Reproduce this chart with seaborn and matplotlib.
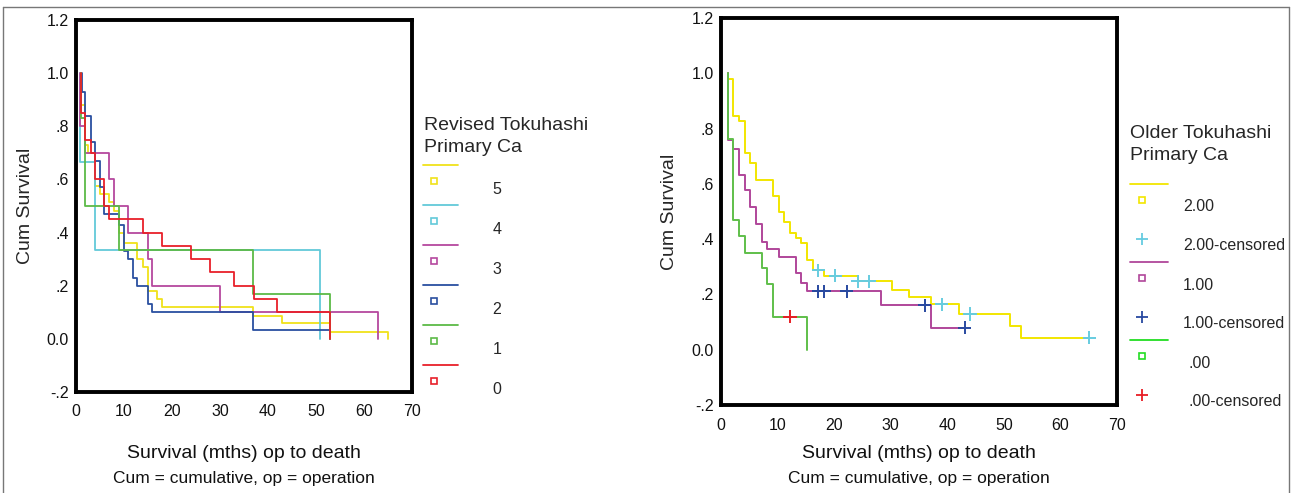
import numpy as np
import pandas as pd
import matplotlib
matplotlib.use("Agg")
import matplotlib.pyplot as plt
from matplotlib.lines import Line2D
import seaborn as sns

# ---- left panel: Revised Tokuhashi (event months, survival after each drop)
rev_groups = ["5", "4", "3", "2", "1", "0"]
rev5_t = [1.0, 1.9, 2.6, 3.9, 4.9, 6.9, 8.0, 9.0, 10.0, 12.8, 13.9, 15.0, 16.9, 17.9, 36.9, 43.0, 52.9, 65.1]
rev5_s = [0.88, 0.73, 0.70, 0.575, 0.545, 0.516, 0.48, 0.40, 0.36, 0.30, 0.27, 0.18, 0.15, 0.12, 0.087, 0.058, 0.026, 0.0]
rev4_t = [0.8, 3.9, 50.8]
rev4_s = [0.667, 0.333, 0.0]
rev3_t = [0.9, 1.9, 6.9, 8.0, 10.9, 15.0, 15.9, 29.9, 63.0]
rev3_s = [0.80, 0.70, 0.60, 0.50, 0.40, 0.30, 0.20, 0.10, 0.0]
rev2_t = [1.2, 1.9, 3.1, 3.9, 4.9, 5.8, 9.0, 10.0, 10.9, 11.9, 12.8, 15.0, 15.9, 36.9, 52.9]
rev2_s = [0.93, 0.84, 0.74, 0.67, 0.57, 0.47, 0.43, 0.33, 0.30, 0.23, 0.20, 0.13, 0.10, 0.033, 0.0]
rev1_t = [1.0, 1.9, 9.0, 36.9, 52.9]
rev1_s = [0.833, 0.5, 0.333, 0.167, 0.0]
rev0_t = [1.0, 1.9, 3.1, 3.9, 5.8, 6.9, 13.9, 17.9, 24.0, 27.9, 33.0, 37.0, 41.9, 52.9]
rev0_s = [0.85, 0.75, 0.70, 0.60, 0.50, 0.45, 0.40, 0.35, 0.30, 0.25, 0.20, 0.15, 0.10, 0.0]

# ---- right panel: Older Tokuhashi
old_groups = ["2.00", "1.00", ".00"]
old2_t = [1.3, 2.2, 3.2, 4.2, 5.2, 6.2, 9.2, 10.2, 11.2, 12.2, 13.2, 14.2, 15.2, 16.2, 18.2, 24.2, 30.2, 33.3, 37.1, 42.1, 51.0, 53.0]
old2_s = [0.978, 0.846, 0.829, 0.71, 0.674, 0.614, 0.556, 0.50, 0.463, 0.423, 0.403, 0.387, 0.324, 0.288, 0.268, 0.248, 0.216, 0.19, 0.164, 0.129, 0.087, 0.043]
old2_cens = [17.2, 20.2, 24.2, 26.2, 39.0, 44.0, 65.1]
old1_t = [1.2, 2.2, 3.2, 4.2, 5.2, 6.2, 7.2, 8.2, 10.2, 13.2, 14.2, 15.2, 28.2, 37.1]
old1_s = [0.759, 0.726, 0.633, 0.578, 0.517, 0.454, 0.39, 0.366, 0.337, 0.276, 0.242, 0.212, 0.16, 0.08]
old1_cens = [17.2, 18.2, 22.2, 36.0, 43.1]
old0_t = [1.2, 2.2, 3.2, 4.2, 7.2, 8.2, 9.2, 15.2]
old0_s = [0.761, 0.469, 0.413, 0.351, 0.294, 0.238, 0.119, 0.0]
old0_cens = [12.2]

y_ticks = [-0.2, 0.0, 0.2, 0.4, 0.6, 0.8, 1.0, 1.2]
y_ticklabels = ["-.2", "0.0", ".2", ".4", ".6", ".8", "1.0", "1.2"]
x_ticks = [0, 10, 20, 30, 40, 50, 60, 70]

rev_colors = {"5": "#f0e21a", "4": "#62c9d9", "3": "#b5489e",
              "2": "#2a4fa0", "1": "#5cba47", "0": "#e8202a"}
old_colors = {"2.00": "#f2e600", "1.00": "#b0469a", ".00": "#5fbf4a"}
cens_colors = {"2.00-censored": "#66cce0", "1.00-censored": "#2849a0", ".00-censored": "#e81e25"}


def km_frame(t, s, group, end=None):
    x = [t[0]] + list(t)
    y = [1.0] + list(s)
    if end is not None and end > x[-1]:
        x.append(end)
        y.append(y[-1])
    return pd.DataFrame({"month": x, "surv": y, "group": group})


def cens_frame(t, s, cens, group):
    idx = np.searchsorted(t, cens, side="right") - 1
    y = [s[i] if i >= 0 else 1.0 for i in idx]
    return pd.DataFrame({"month": cens, "surv": y, "group": group})


rev_df = pd.concat([km_frame(rev5_t, rev5_s, "5"), km_frame(rev4_t, rev4_s, "4"),
                    km_frame(rev3_t, rev3_s, "3"), km_frame(rev2_t, rev2_s, "2"),
                    km_frame(rev1_t, rev1_s, "1"), km_frame(rev0_t, rev0_s, "0")])
old_df = pd.concat([km_frame(old2_t, old2_s, "2.00", max(old2_cens)),
                    km_frame(old1_t, old1_s, "1.00", max(old1_cens)),
                    km_frame(old0_t, old0_s, ".00")])
cens_df = pd.concat([cens_frame(old2_t, old2_s, old2_cens, "2.00-censored"),
                     cens_frame(old1_t, old1_s, old1_cens, "1.00-censored"),
                     cens_frame(old0_t, old0_s, old0_cens, ".00-censored")])

sns.set_style("white")
plt.rcParams["font.family"] = ["Liberation Sans", "DejaVu Sans"]

W, H = 1294, 493
fig = plt.figure(figsize=(W / 100, H / 100), dpi=100)


def fx(px):
    return px / W


def fy(py):
    return 1 - py / H


ax1 = fig.add_axes([fx(76), fy(392), fx(412) - fx(76), fy(20) - fy(392)])
ax2 = fig.add_axes([fx(721), fy(405), fx(1117) - fx(721), fy(18) - fy(405)])

sns.lineplot(data=rev_df, x="month", y="surv", hue="group", hue_order=rev_groups,
             palette=rev_colors, estimator=None, sort=False, drawstyle="steps-post",
             linewidth=1.3, legend=False, ax=ax1)
sns.lineplot(data=old_df, x="month", y="surv", hue="group", hue_order=old_groups,
             palette=old_colors, estimator=None, sort=False, drawstyle="steps-post",
             linewidth=1.4, legend=False, ax=ax2)
sns.scatterplot(data=cens_df, x="month", y="surv", hue="group", palette=cens_colors,
                marker="+", s=90, linewidth=1.4, legend=False, ax=ax2, zorder=5)

for ax, xc in [(ax1, 244), (ax2, 919)]:
    ax.set_xlim(0, 70)
    ax.set_ylim(-0.2, 1.2)
    ax.set_xticks(x_ticks)
    ax.set_yticks(y_ticks)
    ax.set_yticklabels(y_ticklabels)
    ax.set_xlabel("")
    ax.set_ylabel("Cum Survival", fontsize=14)
    for sp in ax.spines.values():
        sp.set_visible(True)
        sp.set_color("black")
        sp.set_linewidth(2.8)
    ax.tick_params(axis="both", direction="out", length=3, width=2.5, colors="black",
                   labelsize=11.5, labelcolor="#111111")
    ax.tick_params(axis="x", pad=6)
    ax.tick_params(axis="y", pad=2)
    fig.text(fx(xc), fy(454), "Survival (mths) op to death", ha="center", va="center",
             fontsize=14, color="#111111")
    fig.text(fx(xc), fy(478), "Cum = cumulative, op = operation", ha="center", va="center",
             fontsize=12.5, color="#111111")

ax1.yaxis.set_label_coords((34 - 76) / 336, 0.5)
ax2.yaxis.set_label_coords((678 - 721) / 396, 0.5)

# ---- left legend
fig.text(fx(424), fy(125), "Revised Tokuhashi", ha="left", va="center", fontsize=14)
fig.text(fx(424), fy(148), "Primary Ca", ha="left", va="center", fontsize=14)
for i, g in enumerate(rev_groups):
    ly = 165 + i * 40
    fig.add_artist(Line2D([fx(423), fx(458)], [fy(ly), fy(ly)], color=rev_colors[g], lw=1.3))
    fig.add_artist(Line2D([fx(434)], [fy(ly + 16)], marker="s", ms=4.5, mfc="white",
                          mec=rev_colors[g], mew=1.2, ls="none"))
    fig.text(fx(497), fy(ly + 24), g, ha="center", va="center", fontsize=11.5)

# ---- right legend
fig.text(fx(1130), fy(134), "Older Tokuhashi", ha="left", va="center", fontsize=14)
fig.text(fx(1130), fy(156), "Primary Ca", ha="left", va="center", fontsize=14)
leg_line_colors = {"2.00": "#f2e600", "1.00": "#b0469a", ".00": "#22dd22"}
cens_names = list(cens_colors)
for i, g in enumerate(old_groups):
    ly = 184 + i * 78
    lx = 1183 if g != ".00" else 1188
    fig.add_artist(Line2D([fx(1130), fx(1168)], [fy(ly), fy(ly)], color=leg_line_colors[g], lw=1.3))
    fig.add_artist(Line2D([fx(1142)], [fy(ly + 16)], marker="s", ms=4.5, mfc="white",
                          mec=leg_line_colors[g], mew=1.2, ls="none"))
    fig.text(fx(lx), fy(ly + 23), g, ha="left", va="center", fontsize=11.5)
    fig.add_artist(Line2D([fx(1142)], [fy(ly + 55)], marker="+", ms=8,
                          mec=cens_colors[cens_names[i]], mew=1.3, ls="none"))
    fig.text(fx(lx), fy(ly + 62), cens_names[i], ha="left", va="center", fontsize=11.5)

# thin frame around the figure
frame_kw = dict(color="#777777", lw=1.0)
fig.add_artist(Line2D([fx(3), fx(1289)], [fy(7), fy(7)], **frame_kw))
fig.add_artist(Line2D([fx(3), fx(3)], [fy(7), 0], **frame_kw))
fig.add_artist(Line2D([fx(1289), fx(1289)], [fy(7), 0], **frame_kw))

fig.savefig("out.png", dpi=100)
